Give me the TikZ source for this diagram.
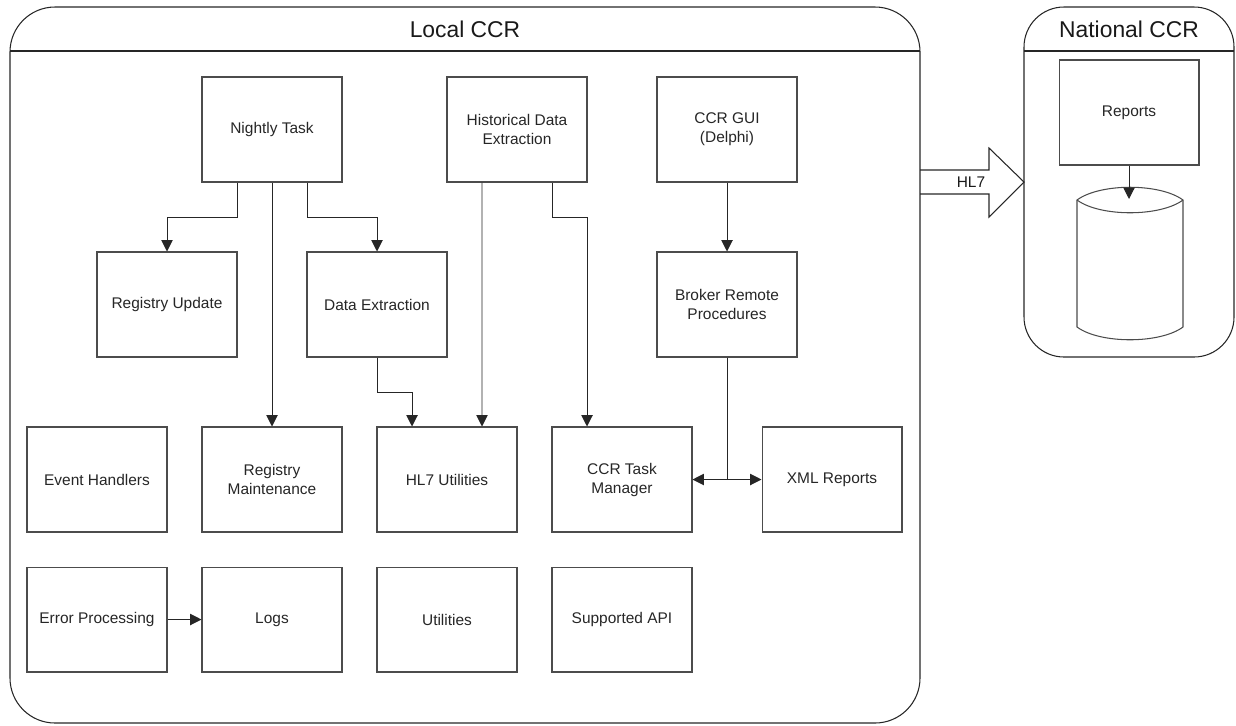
\documentclass[tikz,border=0pt]{standalone}
\usepackage{fontspec}
\setmainfont{Liberation Sans}
\usepackage{tikz}
\usetikzlibrary{arrows.meta}

\tikzset{
    modbox/.style={draw=black!70, line width=0.6pt, minimum width=2.8cm, minimum height=2.1cm, align=center, text=black!85, font=\fontsize{8.8}{10.8}\selectfont},
    flow/.style={draw=black!85, line width=0.55pt, -{Triangle[length=6.5pt,width=6.5pt]}},
    frame/.style={draw=black!85, line width=0.6pt},
    title/.style={text=black!90, font=\fontsize{13}{15}\selectfont}
}

\begin{document}
\begin{tikzpicture}[x=0.02cm, y=-0.02cm]
        \useasboundingbox (0,0) rectangle (1236,725);

        % containers
        \draw[frame, rounded corners=0.9cm] (10,7) rectangle (920,723);
        \draw[frame] (10,51) -- (920,51);
        \node[title] (localtitle) at (465,29) {Local CCR};
        \draw[frame, rounded corners=0.8cm] (1024,7) rectangle (1234,357);
        \draw[frame] (1024,51) -- (1234,51);
        \node[title] (nattitle) at (1129,29) {National CCR};

        \node[modbox] (nightly) at (272, 129.5) {Nightly Task};
        \node[modbox] (hist) at (517, 129.5) {Historical Data\\Extraction};
        \node[modbox] (gui) at (727, 129.5) {CCR GUI\\(Delphi)};
        \node[modbox] (regupd) at (167, 304.5) {Registry Update};
        \node[modbox] (dataext) at (377, 304.5) {Data Extraction};
        \node[modbox] (broker) at (727, 304.5) {Broker Remote\\Procedures};
        \node[modbox] (events) at (97, 479.5) {Event Handlers};
        \node[modbox] (regmaint) at (272, 479.5) {Registry\\Maintenance};
        \node[modbox] (hlutil) at (447, 479.5) {HL7 Utilities};
        \node[modbox] (taskmgr) at (622, 479.5) {CCR Task\\Manager};
        \node[modbox] (xmlrep) at (832, 479.5) {XML Reports};
        \node[modbox] (errproc) at (97, 619.5) {Error Processing};
        \node[modbox] (logs) at (272, 619.5) {Logs};
        \node[modbox] (utils) at (447, 619.5) {Utilities};
        \node[modbox] (api) at (622, 619.5) {Supported API};
        \node[modbox] (reports) at (1129, 112.5) {Reports};

        % database
        \draw[frame, draw=black!70] (1077,200) .. controls (1100,183) and (1160,183) .. (1183,200)
            -- (1183,327) .. controls (1160,344) and (1100,344) .. (1077,327) -- cycle;
        \draw[frame, draw=black!70] (1077,200) .. controls (1100,217) and (1160,217) .. (1183,200);
        \coordinate (dbtop) at (1129,199);

        % HL7 link
        \draw[frame] (920,170) -- (989,170) -- (989,148) -- (1024,182) -- (989,217) -- (989,194) -- (920,194);
        \node[text=black!90, font=\fontsize{8.8}{10.8}\selectfont] (hlseven) at (971,182) {HL7};

        \draw[flow] ([xshift=-0.7cm]nightly.south) -- ++(0,35) -| (regupd.north);
        \draw[flow] ([xshift=0.7cm]nightly.south) -- ++(0,35) -| (dataext.north);
        \draw[flow] (nightly.south) -- (regmaint.north);
        \draw[flow] (dataext.south) -- ++(0,35) -| ([xshift=-0.7cm]hlutil.north);
        \draw[flow] ([xshift=-0.7cm]hist.south) -- ([xshift=0.7cm]hlutil.north);
        \draw[flow] ([xshift=0.7cm]hist.south) -- ++(0,35) -| ([xshift=-0.7cm]taskmgr.north);
        \draw[flow] (gui.south) -- (broker.north);
        \draw[flow] (broker.south) |- (taskmgr.east);
        \draw[flow] (broker.south) |- (xmlrep.west);
        \draw[flow] (errproc.east) -- (logs.west);
        \draw[flow] (reports.south) -- (dbtop);
    \end{tikzpicture}
\end{document}
